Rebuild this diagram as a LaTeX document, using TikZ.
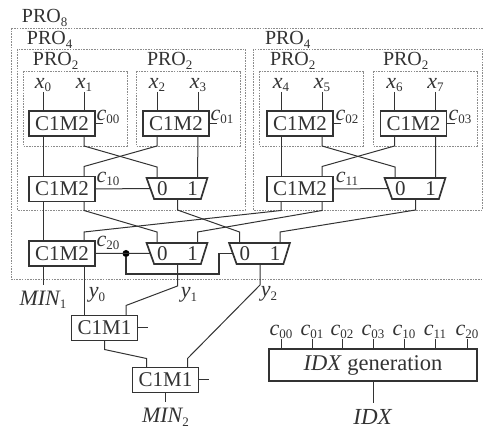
\documentclass[tikz,border=0pt]{standalone}
\usepackage{fontspec}
\setmainfont{Liberation Serif}
\usetikzlibrary{calc,shapes.geometric}
\definecolor{ink}{gray}{0.2}
\newcommand\lab[2]{{\fontsize{22}{22}\selectfont\itshape #1}\raisebox{-3.5pt}{\fontsize{13}{13}\selectfont #2}}
\newcommand\labup[2]{{\fontsize{20}{20}\selectfont\upshape #1}\raisebox{-3.5pt}{\fontsize{13}{13}\selectfont #2}}
\newcommand\pins[1]{%
  \coordinate (#1tl) at ([xshift=14pt]#1.north west);
  \coordinate (#1tr) at ([xshift=55pt]#1.north west);
  \coordinate (#1bl) at ([xshift=14pt]#1.south west);
  \coordinate (#1br) at ([xshift=55pt]#1.south west);}
\newcommand\muxpins[1]{%
  \coordinate (#1a) at ([xshift=-20.5pt]#1.north);
  \coordinate (#1b) at ([xshift=20pt]#1.north);}
\tikzset{
  x=1pt,y=-1pt,
  every node/.style={inner sep=0pt,outer sep=0pt,text=ink},
  txt/.style={font=\fontsize{19}{19}\selectfont},
  zone/.style={draw=gray!90,line width=0.7pt,dash pattern=on 1.6pt off 1.1pt},
  wire/.style={draw=ink,line width=1pt},
  cmp/.style={draw=ink,line width=1.7pt,fill=white,minimum width=66pt,minimum height=25pt,font=\fontsize{21}{21}\selectfont},
  mux/.style={draw=ink,line width=1.7pt,fill=white,trapezium,shape border rotate=180,trapezium stretches=true,
     trapezium left angle=68,trapezium right angle=65,minimum width=61pt,minimum height=21pt,font=\fontsize{21}{21}\selectfont},
  dot/.style={circle,fill=black,minimum size=7pt},
}
\begin{document}
\begin{tikzpicture}
\useasboundingbox (0,0) rectangle (483,430);
\clip (0,0) rectangle (483,430);
% zones
\draw[zone] (11,28) rectangle (490,279);
\draw[zone] (17,49) rectangle (245,210);
\draw[zone] (253,49) rectangle (482.5,210);
\draw[zone] (23,71) rectangle (127,146);
\draw[zone] (136,71) rectangle (240,146);
\draw[zone] (259,71) rectangle (363,146);
\draw[zone] (373,71) rectangle (477,146);
\node[txt,anchor=west] (p8) at (22,18) {\labup{PRO}{8}};
\node[txt,anchor=west] (p4a) at (27,40) {\labup{PRO}{4}};
\node[txt,anchor=west] (p4b) at (265,40) {\labup{PRO}{4}};
\node[txt,anchor=west] (p2a) at (33,61) {\labup{PRO}{2}};
\node[txt,anchor=west] (p2b) at (147,61) {\labup{PRO}{2}};
\node[txt,anchor=west] (p2c) at (270,61) {\labup{PRO}{2}};
\node[txt,anchor=west] (p2d) at (383,61) {\labup{PRO}{2}};
% comparators
\node[cmp] (c00) at (62,123.5) {C1M2};
\node[cmp] (c01) at (176,123.5) {C1M2};
\node[cmp] (c02) at (300,123.5) {C1M2};
\node[cmp] (c03) at (413.5,123.5) {C1M2};
\node[cmp] (c10) at (62,189) {C1M2};
\node[cmp] (c11) at (300,189) {C1M2};
\node[cmp] (c20) at (62,253.5) {C1M2};
\node[cmp] (m1) at (104.5,328) {C1M1};
\node[cmp] (m2) at (165.5,380) {C1M1};
\foreach \n in {c00,c01,c02,c03,c10,c11,c20,m1,m2} {\pins{\n}}
% muxes
\node[mux] (u0) at (177.5,188.5) {0\hspace{20pt}1};
\node[mux] (u1) at (415.5,188.5) {0\hspace{20pt}1};
\node[mux] (u2) at (177.5,253.5) {0\hspace{20pt}1};
\node[mux] (u3) at (260,253.5) {0\hspace{20pt}1};
\foreach \n in {u0,u1,u2,u3} {\muxpins{\n}}
% inputs
\foreach \n/\i/\c/\p in {x0/0/c00/tl,x1/1/c00/tr,x2/2/c01/tl,x3/3/c01/tr,x4/4/c02/tl,x5/5/c02/tr,x6/6/c03/tl,x7/7/c03/tr}{
  \path (\c\p) ++(0,-19) coordinate (tmp);
  \node[txt,anchor=south] (\n) at (tmp) {\lab{x}{\i}};
  \draw[wire] (\n.south) -- (\c\p);
}
% first stage wiring
\draw[wire] (c00bl) -- (c10tl);
\draw[wire] (c02bl) -- (c11tl);
\draw[wire] (c00br) -- ++(0,10) -- ($(u0a)+(0,-11)$) -- (u0a);
\draw[wire] (c01bl) -- ++(0,10) -- ($(c10tr)+(0,-10)$) -- (c10tr);
\draw[wire] (c01br) -- (u0b);
\draw[wire] (c02br) -- ++(0,10) -- ($(u1a)+(0,-11)$) -- (u1a);
\draw[wire] (c03bl) -- ++(0,10) -- ($(c11tr)+(0,-10)$) -- (c11tr);
\draw[wire] (c03br) -- (u1b);
\draw[wire] (c10.east) -- (u0.west);
\draw[wire] (c11.east) -- (u1.west);
% second stage wiring
\draw[wire] (c10bl) -- (c20tl);
\draw[wire] (c10br) -- ++(0,9) -- ($(u2a)+(0,-11)$) -- (u2a);
\draw[wire] (u0.south) -- ++(0,11) -- ($(u3a)+(0,-11)$) -- (u3a);
\draw[wire] (c11bl) -- ++(0,9) -- ($(c20tr)+(0,-9)$) -- (c20tr);
\draw[wire] (c11br) -- ++(0,9) -- ($(u2b)+(0,-11)$) -- (u2b);
\draw[wire] (u1.south) -- ++(0,11) -- ($(u3b)+(0,-11)$) -- (u3b);
% select
\node[dot] (sel) at (126,253.5) {};
\coordinate (selc) at (219,274);
\draw[wire] (c20.east) -- (u2.west);
\draw[wire,line width=1.3pt] (sel) |- (selc) |- (u3.west);
% outputs
\coordinate (min1) at ($(c20bl)+(0,19)$);
\draw[wire] (c20bl) -- (min1);
\node[anchor=north] (minone) at ($(min1)+(0,6)$) {\lab{MIN}{1}};
\draw[wire] (c20br) -- (m1.north -| c20br);
\coordinate (m1in) at (m1.north -| sel);
\draw[wire] (u2.south) -- ++(0,22) -- ($(m1in)+(0,-10)$) -- (m1in);
\draw[wire] (u3.south) -- ++(0,21) -- ($(m2tr)+(0,-9)$) -- (m2tr);
\draw[wire] (m1.south) -- ++(0,9) -- ($(m2tl)+(0,-9)$) -- (m2tl);
\coordinate (e1) at ($(m1.east)+(10,0)$);
\coordinate (e2) at ($(m2.east)+(10,0)$);
\draw[wire] (m1.east) -- (e1);
\draw[wire] (m2.east) -- (e2);
\coordinate (min2) at ($(m2.south)+(0,10)$);
\draw[wire] (m2.south) -- (min2);
\node[anchor=north] (mintwo) at ($(min2)+(0,6)$) {\lab{MIN}{2}};
\node[txt] (y0) at (97,295) {\lab{y}{0}};
\node[txt] (y1) at (189,295) {\lab{y}{1}};
\node[txt] (y2) at (269,294) {\lab{y}{2}};
% c labels and stubs
\foreach \n/\i/\xx/\yy in {l00/00/108/117,l01/01/222/117,l02/02/347/117,l03/03/460/117,l10/10/108/179,l11/11/347/179,l20/20/108/243}{
  \node[txt] (\n) at (\xx,\yy) {\lab{c}{\i}};
}
\coordinate (s0) at ($(c00.east)+(8,0)$);
\coordinate (s1) at ($(c01.east)+(8,0)$);
\coordinate (s2) at ($(c02.east)+(8,0)$);
\coordinate (s3) at ($(c03.east)+(8,0)$);
\draw[wire] (c00.east) -- (s0);
\draw[wire] (c01.east) -- (s1);
\draw[wire] (c02.east) -- (s2);
\draw[wire] (c03.east) -- (s3);
% IDX generation
\node[draw=ink,line width=1.5pt,minimum width=208pt,minimum height=32pt,font=\fontsize{22.5}{22.5}\selectfont] (gen) at (373,365) {\textit{IDX} generation};
\foreach \n/\i/\xx in {g0/00/281,g1/01/312,g2/02/342,g3/03/373,g4/10/404,g5/11/435,g6/20/467}{
  \coordinate (t) at (\xx,339);
  \draw[wire] (t) -- (t |- gen.north);
  \node[txt,anchor=south] (\n) at (\xx,339) {\lab{c}{\i}};
}
\coordinate (idxe) at ($(gen.south)+(0,22)$);
\draw[wire] (gen.south) -- (idxe);
\node[anchor=north,font=\fontsize{23}{23}\selectfont] (idx) at ($(idxe)+(0,6)$) {\textit{IDX}};
\end{tikzpicture}
\end{document}
